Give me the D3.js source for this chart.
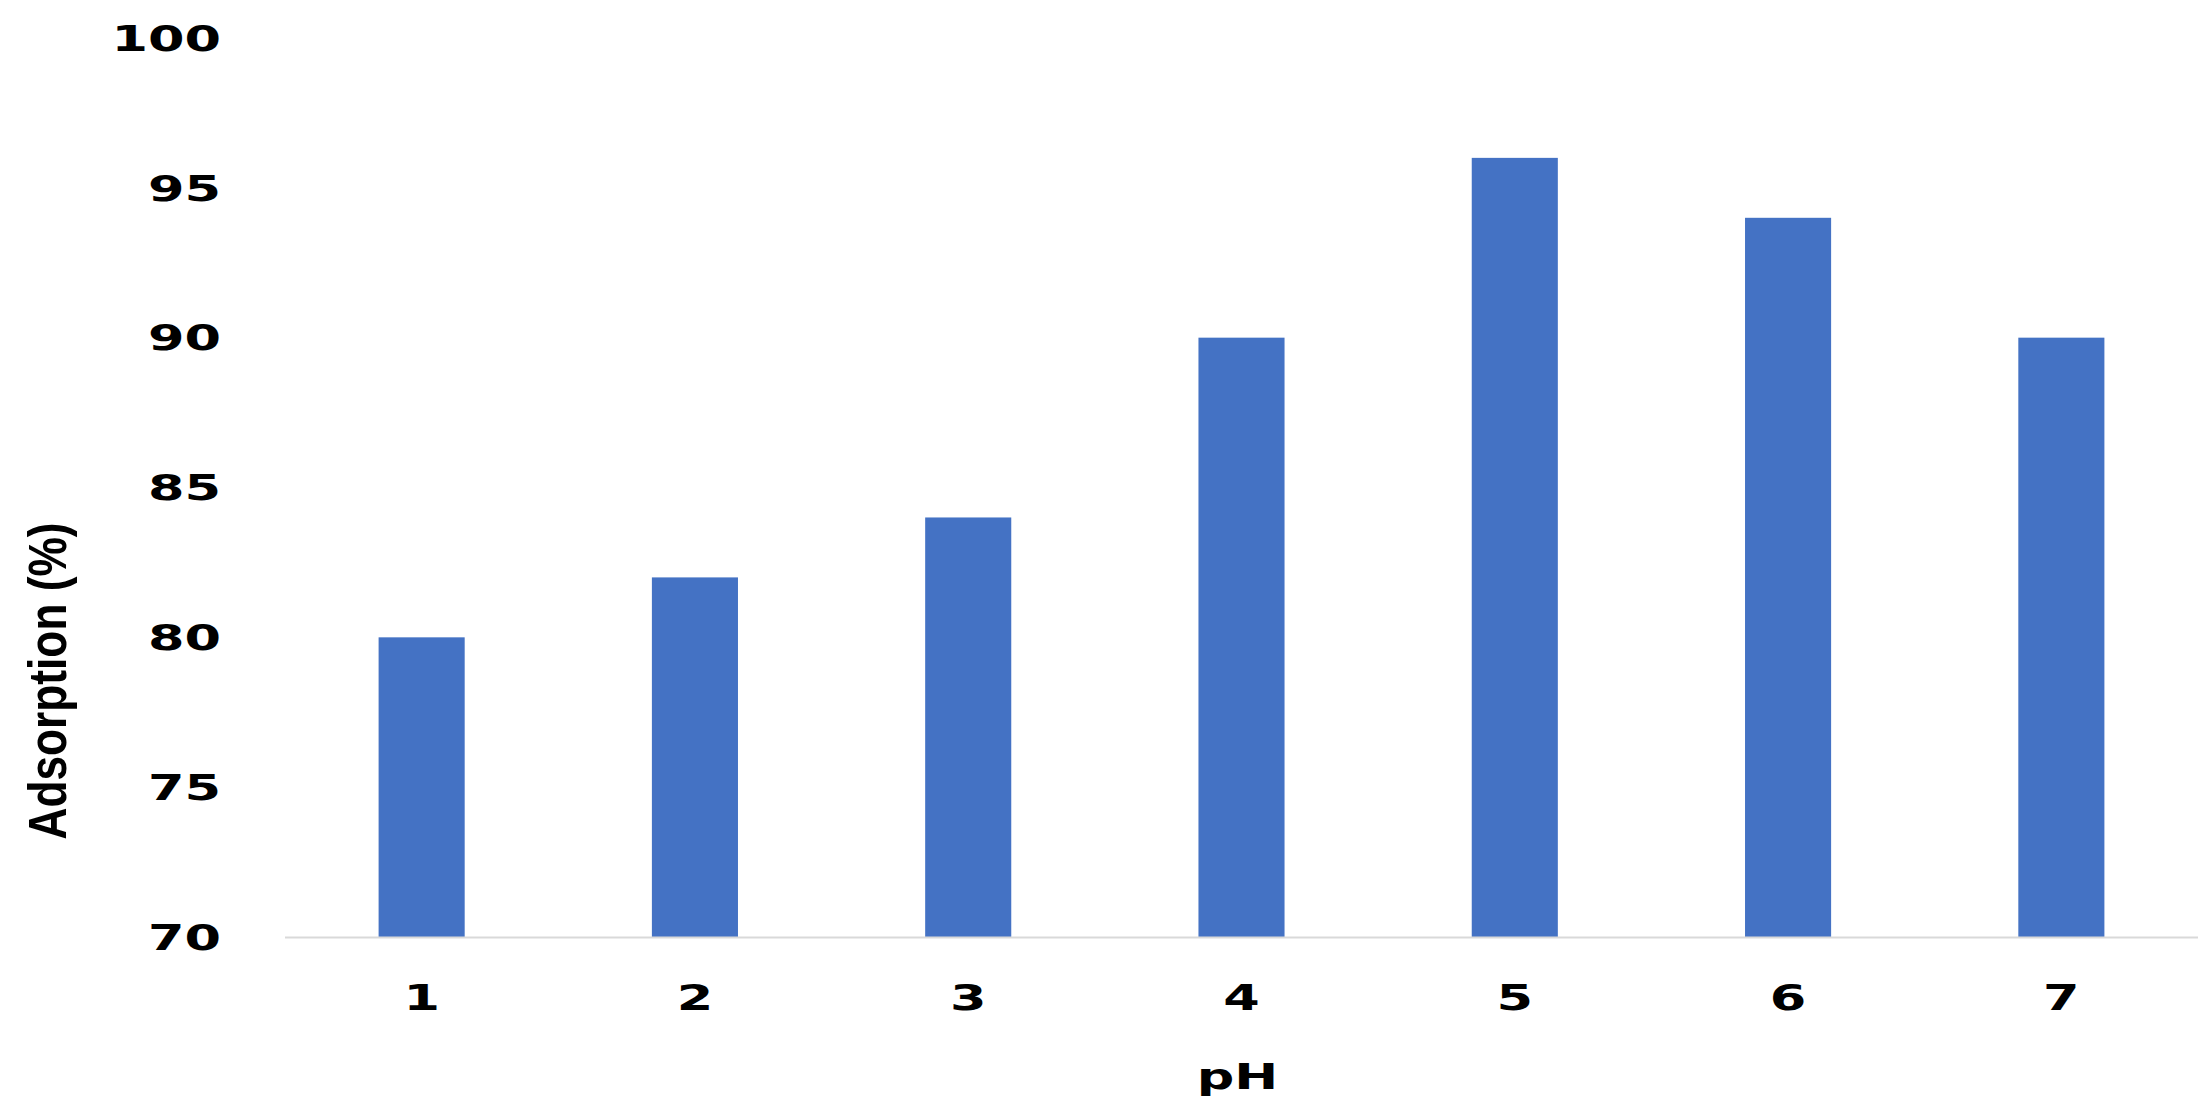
<!DOCTYPE html>
<html>
<head>
<meta charset="utf-8">
<script src="https://cdn.jsdelivr.net/npm/d3@7"></script>
<style>
  body { margin: 0; background: #fff; }
</style>
</head>
<body>
<svg id="chart"></svg>
<script>
var categories = ["1", "2", "3", "4", "5", "6", "7"]
var values = [80, 82, 84, 90, 96, 94, 90]
var yTicks = [70, 75, 80, 85, 90, 95, 100]

var dimensions = {
    width: 2212,
    height: 1111,
    margin: { top: 38, bottom: 174, right: 14, left: 285 }
}

var svg = d3.select("#chart")
            .attr("width", dimensions.width)
            .attr("height", dimensions.height)

var x = d3.scaleBand()
          .domain(categories)
          .range([dimensions.margin.left, dimensions.width - dimensions.margin.right])
          .paddingInner(0.685)
          .paddingOuter(0.3425)

var y = d3.scaleLinear()
          .domain([70, 100])
          .range([dimensions.height - dimensions.margin.bottom, dimensions.margin.top])

svg.append("g")
   .selectAll("rect")
   .data(values)
   .enter()
   .append("rect")
   .attr("x", (d, i) => x(categories[i]))
   .attr("y", d => y(d))
   .attr("width", x.bandwidth())
   .attr("height", d => y(70) - y(d))
   .attr("fill", "#4472C4")

// baseline
svg.append("line")
   .attr("x1", dimensions.margin.left)
   .attr("x2", dimensions.width - dimensions.margin.right)
   .attr("y1", y(70) + 0.5)
   .attr("y2", y(70) + 0.5)
   .attr("stroke", "#D9D9D9")
   .attr("stroke-width", 2)

var labelStyle = function(sel) {
    sel.attr("font-family", "DejaVu Sans")
       .attr("font-weight", "bold")
       .attr("font-size", "35px")
       .attr("fill", "#000")
}

var yAxis = svg.append("g")
   .attr("transform", `translate(${dimensions.margin.left - 64},0)`)
   .call(d3.axisLeft(y).tickValues(yTicks).tickSize(0).tickPadding(0))
yAxis.select(".domain").remove()
yAxis.selectAll("text")
     .call(labelStyle)
     .attr("transform", "scale(1.5,1)")
     .attr("dy", "0.35em")

var xAxis = svg.append("g")
   .attr("transform", `translate(0,${y(70) + 48})`)
   .call(d3.axisBottom(x).tickSize(0).tickPadding(0))
xAxis.select(".domain").remove()
xAxis.selectAll("text")
     .call(labelStyle)
     .attr("transform", "scale(1.5,1)")

svg.append("text")
   .attr("transform", `translate(${(dimensions.margin.left + dimensions.width - dimensions.margin.right) / 2 - 4},1089) scale(1.5,1)`)
   .attr("text-anchor", "middle")
   .call(labelStyle)
   .text("pH")

svg.append("text")
   .attr("transform", "translate(66,681) rotate(-90) scale(0.82,1)")
   .attr("text-anchor", "middle")
   .attr("font-family", "Liberation Sans Narrow, Liberation Sans")
   .attr("font-weight", "bold")
   .attr("font-size", "54px")
   .attr("fill", "#000")
   .text("Adsorption (%)")
</script>
</body>
</html>
